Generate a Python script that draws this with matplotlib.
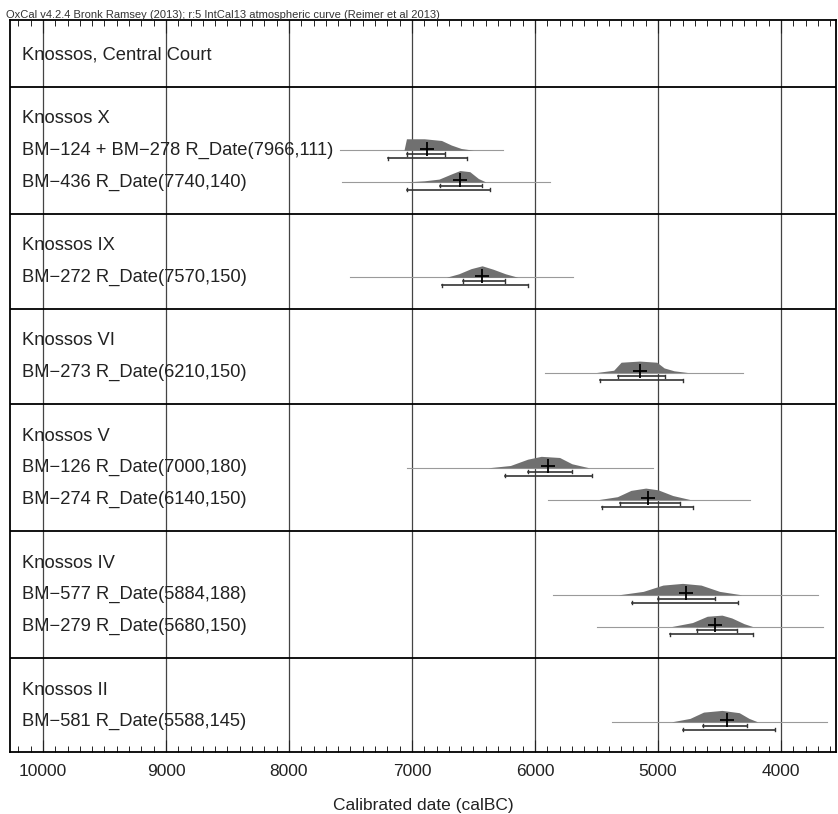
import numpy as np
import matplotlib
matplotlib.use("Agg")
import matplotlib.pyplot as plt
from matplotlib.ticker import MultipleLocator
from matplotlib.transforms import blended_transform_factory

plt.rcParams['font.family'] = ['Liberation Sans', 'DejaVu Sans']

# phases (top to bottom) and the dates in each
groups = ["Knossos, Central Court", "Knossos X", "Knossos IX", "Knossos VI",
          "Knossos V", "Knossos IV", "Knossos II"]
date_labels = ["BM\u2212124 + BM\u2212278 R_Date(7966,111)", "BM\u2212436 R_Date(7740,140)",
               "BM\u2212272 R_Date(7570,150)",
               "BM\u2212273 R_Date(6210,150)",
               "BM\u2212126 R_Date(7000,180)", "BM\u2212274 R_Date(6140,150)",
               "BM\u2212577 R_Date(5884,188)", "BM\u2212279 R_Date(5680,150)",
               "BM\u2212581 R_Date(5588,145)"]
date_group = [1, 1, 2, 3, 4, 4, 5, 5, 6]

# faint likelihood extent (calBC)
thin_from = [7585, 7569, 7504, 5919, 7041, 5894, 5854, 5496, 5374]
thin_to = [6260, 5878, 5691, 4309, 5041, 4252, 3699, 3659, 3626]

# posterior shape (year, relative height)
dist_x = [
    [7065, 7045, 6900, 6760, 6680, 6600, 6500],
    [7060, 6900, 6780, 6680, 6610, 6530, 6460, 6400],
    [6720, 6620, 6520, 6430, 6340, 6240, 6140],
    [5500, 5360, 5300, 5150, 5010, 4950, 4870, 4760],
    [6380, 6200, 6060, 5950, 5800, 5700, 5560],
    [5480, 5330, 5220, 5100, 5000, 4880, 4740],
    [5320, 5120, 4960, 4800, 4650, 4500, 4320],
    [4890, 4720, 4600, 4480, 4400, 4300, 4230],
    [4890, 4740, 4630, 4480, 4340, 4260, 4190],
]
dist_h = [
    [0, 1.0, 1.0, 0.85, 0.45, 0.15, 0],
    [0, 0.1, 0.25, 0.7, 1.0, 0.9, 0.3, 0],
    [0, 0.3, 0.75, 1.0, 0.7, 0.3, 0],
    [0, 0.2, 0.9, 1.0, 0.9, 0.4, 0.15, 0],
    [0, 0.2, 0.75, 1.0, 0.9, 0.35, 0],
    [0, 0.25, 0.8, 1.0, 0.85, 0.35, 0],
    [0, 0.3, 0.85, 1.0, 0.85, 0.3, 0],
    [0, 0.35, 0.9, 1.0, 0.75, 0.25, 0],
    [0, 0.3, 0.85, 1.0, 0.8, 0.3, 0],
]
median = [6878, 6610, 6431, 5146, 5894, 5081, 4772, 4537, 4439]
r68_from = [7041, 6772, 6585, 5325, 6057, 5309, 5000, 4683, 4634]
r68_to = [6732, 6431, 6244, 4943, 5699, 4821, 4537, 4358, 4276]
r95_from = [7195, 7041, 6756, 5472, 6244, 5455, 5211, 4902, 4797]
r95_to = [6553, 6366, 6057, 4797, 5537, 4715, 4350, 4228, 4049]

# row layout
rows_header = []
rows_date = []
seps = []
pos = 0.1
for g in range(len(groups)):
    pos += 1.0
    rows_header.append(pos)
    for i, gi in enumerate(date_group):
        if gi == g:
            pos += 1.0
            rows_date.append(pos)
    pos += 1.0
    seps.append(pos)

fig = plt.figure(figsize=(8.38, 8.14), dpi=100)
ax = fig.add_axes([10 / 838, 1 - 752 / 814, 826 / 838, 732 / 814])
ax.set_xlim(10268, 3553)
ax.set_ylim(seps[-1] - 0.05, 0)

for yr in range(4000, 10001, 1000):
    ax.axvline(yr, color='#444444', lw=0.9, zorder=1)
for s in seps[:-1]:
    ax.axhline(s, color='black', lw=1.3, zorder=2)

lab_tr = blended_transform_factory(ax.transAxes, ax.transData)
for g, y in zip(groups, rows_header):
    ax.text(12 / 826, y, g, transform=lab_tr, va='center', ha='left',
            fontsize=13.2, color='#222222', zorder=5)

H = 0.36
for i, y in enumerate(rows_date):
    ax.text(12 / 826, y, date_labels[i], transform=lab_tr, va='center', ha='left',
            fontsize=13.2, color='#222222', zorder=5)
    ax.plot([thin_from[i], thin_to[i]], [y, y], color='#9a9a9a', lw=0.8, zorder=3)
    xs = np.array(dist_x[i])
    hs = np.array(dist_h[i])
    ax.fill_between(xs, y, y - hs * H, color='#707070', lw=0, zorder=4)
    # 68.2% and 95.4% ranges
    for lo, hi, dy in [(r68_from[i], r68_to[i], 0.12), (r95_from[i], r95_to[i], 0.25)]:
        ax.plot([lo, hi], [y + dy, y + dy], color='#333333', lw=1.2, zorder=4)
        ax.plot([lo, lo], [y + dy - 0.05, y + dy + 0.05], color='#333333', lw=1, zorder=4)
        ax.plot([hi, hi], [y + dy - 0.05, y + dy + 0.05], color='#333333', lw=1, zorder=4)
    ax.plot(median[i], y - 0.05, marker='+', ms=10, mew=1.3, color='black', zorder=6)

ax.set_yticks([])
ax.xaxis.set_major_locator(MultipleLocator(1000))
ax.xaxis.set_minor_locator(MultipleLocator(100))
ax.tick_params(axis='x', which='major', direction='in', length=9, top=True,
               labelsize=12.5, pad=9, colors='#222222')
ax.tick_params(axis='x', which='minor', direction='in', length=4, top=True)
for sp in ax.spines.values():
    sp.set_linewidth(1.3)
ax.set_xlabel("Calibrated date (calBC)", fontsize=12.5, color='#222222', labelpad=13)

fig.text(6 / 838, 1 - 15 / 814,
         "OxCal v4.2.4 Bronk Ramsey (2013); r:5 IntCal13 atmospheric curve (Reimer et al 2013)",
         fontsize=8, color='#333333', va='center', ha='left')

fig.savefig("out.png", dpi=100)
